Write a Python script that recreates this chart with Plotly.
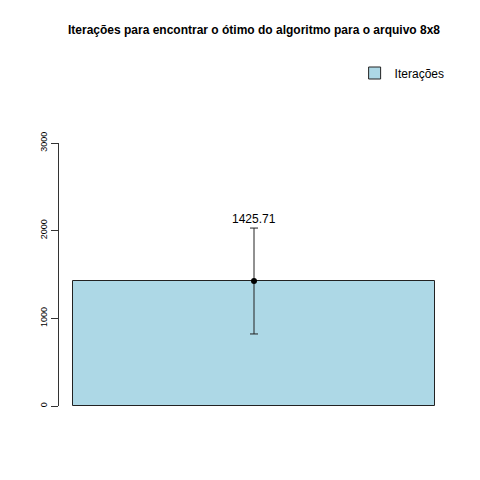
import plotly.graph_objects as go

categories = ["Iterações"]
means = [1425.71]
errors = [604.0]
tick_vals = [0, 1000, 2000, 3000]
tick_text = ["0", "1000", "2000", "3000"]
title = "Iterações para encontrar o ótimo do algoritmo para o arquivo 8x8"

xpos = [0.7]

W = H = 464
L, T = 51, 135
PB = 398  # plot bottom in fig px
PR = 441.5
fig = go.Figure()
fig.add_trace(go.Bar(
    x=xpos, y=means, width=1.0, name=categories[0],
    marker=dict(color="#ADD8E6", line=dict(color="#222222", width=1)),
    showlegend=True, hoverinfo="skip"
))
fig.add_trace(go.Scatter(
    x=xpos, y=means, mode="markers",
    marker=dict(color="black", size=6),
    error_y=dict(type="data", array=errors, visible=True, color="#222222", thickness=1, width=4),
    showlegend=False, cliponaxis=False
))
for x, m, e in zip(xpos, means, errors):
    fig.add_annotation(x=x, y=m + e, text=f"{m:.2f}", showarrow=False,
                       yanchor="bottom", yshift=0,
                       font=dict(size=12, color="black", family="Liberation Sans, Arial"))

fig.update_layout(
    width=W, height=H,
    margin=dict(l=L, r=W - PR, t=T, b=H - PB),
    plot_bgcolor="white", paper_bgcolor="white",
    font=dict(family="Liberation Sans, Arial", color="black"),
    title=dict(text="<b>" + title + "</b>", x=246 / W,
               xanchor="center", y=1 - 22 / H, yanchor="middle",
               font=dict(size=12, color="black")),
    xaxis=dict(range=[0.16, 1.24], showticklabels=False, showgrid=False,
               zeroline=False, showline=False, ticks=""),
    yaxis=dict(range=[0, 3000], tickvals=tick_vals, ticktext=tick_text,
               tickangle=-90, ticks="outside", ticklen=7, tickcolor="#333333",
               showline=True, linecolor="#333333", linewidth=1,
               showgrid=False, zeroline=False, tickfont=dict(size=9)),
    legend=dict(x=(347 - L) / (PR - L), y=(PB - 65) / (PB - T), xanchor="left", yanchor="middle",
                font=dict(size=12), bgcolor="rgba(0,0,0,0)"),
    bargap=0,
)
fig.write_html("out.html")
